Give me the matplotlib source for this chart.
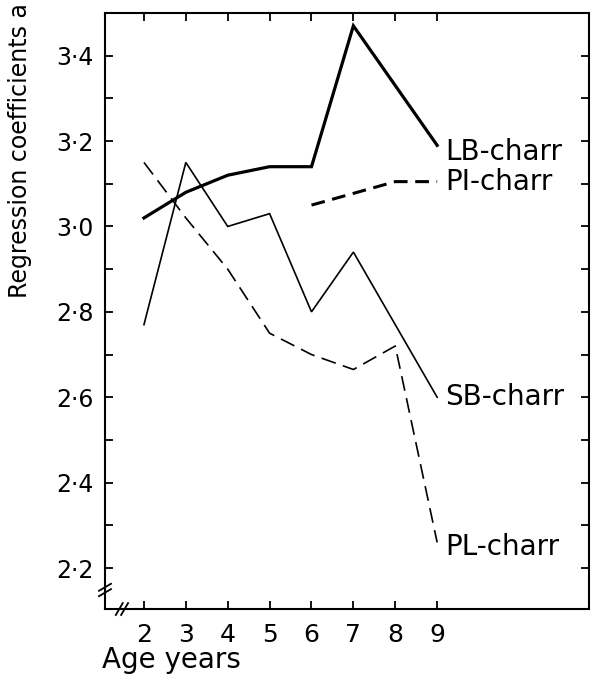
"""Regression coefficient a against age for four charr populations."""

import matplotlib
matplotlib.use("Agg")
import matplotlib.pyplot as plt
from matplotlib.ticker import FixedLocator, MultipleLocator

# ages (years) and coefficients for each population
LB_AGE = [2, 3, 4, 5, 6, 7, 9]
LB_A = [3.02, 3.08, 3.12, 3.14, 3.14, 3.47, 3.19]

SB_AGE = [2, 3, 4, 5, 6, 7, 9]
SB_A = [2.77, 3.15, 3.00, 3.03, 2.80, 2.94, 2.60]

PL_AGE = [2, 3, 4, 5, 6, 7, 8, 9]
PL_A = [3.15, 3.02, 2.90, 2.75, 2.70, 2.665, 2.72, 2.26]

PI_AGE = [6, 8, 9]
PI_A = [3.05, 3.105, 3.105]

X_TICKS = [2, 3, 4, 5, 6, 7, 8, 9]
Y_TICKS = [2.2, 2.4, 2.6, 2.8, 3.0, 3.2, 3.4]
Y_TICKLABELS = ["2·2", "2·4", "2·6", "2·8", "3·0", "3·2", "3·4"]

# end labels: text, y position
END_LABELS = [
    ("LB-charr", 3.175),
    ("PI-charr", 3.105),
    ("SB-charr", 2.600),
    ("PL-charr", 2.250),
]

plt.rcParams["font.family"] = ["DejaVu Sans"]

fig = plt.figure(figsize=(6.0, 6.83), dpi=100)
ax = fig.add_axes([0.175, 0.1083, 0.807, 0.8727])

ax.plot(LB_AGE, LB_A, color="black", linewidth=2.3, solid_joinstyle="miter")
ax.plot(SB_AGE, SB_A, color="black", linewidth=1.2, solid_joinstyle="miter")
ax.plot(PL_AGE, PL_A, color="black", linewidth=1.2, dashes=(9, 4.5))
ax.plot(PI_AGE, PI_A, color="black", linewidth=2.2, dashes=(4.5, 2.5))

for text, yv in END_LABELS:
    ax.text(9.2, yv, text, fontsize=20, ha="left", va="center")

ax.set_xlim(1.07, 12.63)
ax.set_ylim(2.104, 3.5)

ax.xaxis.set_major_locator(FixedLocator(X_TICKS))
ax.set_xticklabels([str(x) for x in X_TICKS])
ax.yaxis.set_major_locator(FixedLocator(Y_TICKS))
ax.set_yticklabels(Y_TICKLABELS)
ax.yaxis.set_minor_locator(MultipleLocator(0.1))

ax.tick_params(axis="both", which="both", direction="in", length=6, width=1.3,
               top=True, right=True)
ax.tick_params(axis="x", labelsize=18, pad=10)
ax.tick_params(axis="y", labelsize=17, pad=8)

for sp in ax.spines.values():
    sp.set_linewidth(1.5)

# break marks on the y and x axes
yb = 0.032
for off in (-0.0045, 0.0045):
    ax.plot([-0.0124, 0.0124], [yb + off - 0.0059, yb + off + 0.0059],
            transform=ax.transAxes, color="black", linewidth=1.3, clip_on=False)
xb = 0.035
for off in (-0.0055, 0.0055):
    ax.plot([xb + off - 0.0072, xb + off + 0.0072], [-0.010, 0.010],
            transform=ax.transAxes, color="black", linewidth=1.3, clip_on=False)

fig.text(20 / 600, 1 - 3 / 683, "Regression coefficients a", rotation=90,
         fontsize=17, ha="center", va="top")
fig.text(102 / 600, 1 - 660 / 683, "Age years", fontsize=20,
         ha="left", va="center")

fig.savefig("out.png", dpi=100)
plt.close(fig)
